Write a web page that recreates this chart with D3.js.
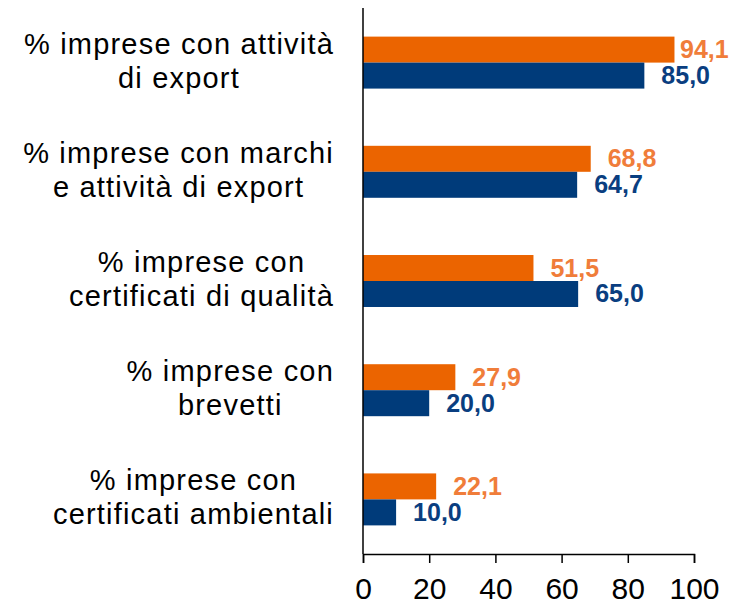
<!DOCTYPE html>
<html>
<head>
<meta charset="utf-8">
<script src="https://cdn.jsdelivr.net/npm/d3@7"></script>
<style>
  body { margin: 0; background: #fff; }
  text { font-family: "Liberation Sans", Arial, sans-serif; }
</style>
</head>
<body>
<div id="chart"></div>
<script>
// categorie (una riga per elemento)
const categories = [
  ["% imprese con attività", "di export"],
  ["% imprese con marchi", "e attività di export"],
  ["% imprese con", "certificati di qualità"],
  ["% imprese con", "brevetti"],
  ["% imprese con", "certificati ambientali"]
];
const orangeValues = [94.1, 68.8, 51.5, 27.9, 22.1];
const blueValues = [85.0, 64.7, 65.0, 20.0, 10.0];
const xTicks = [0, 20, 40, 60, 80, 100];

const width = 742, height = 605;
const plotLeft = 363, plotRight = 694, plotTop = 8, plotBottom = 554;

const svg = d3.select("#chart").append("svg")
  .attr("width", width)
  .attr("height", height);

const x = d3.scaleLinear().domain([0, 100]).range([plotLeft, plotRight]);
const y = d3.scaleBand()
  .domain(d3.range(categories.length))
  .range([plotTop, plotBottom])
  .paddingInner(0.524)
  .paddingOuter(0.262);
const ySub = d3.scaleBand().domain(["orange", "blue"]).range([0, y.bandwidth()]);

const series = [
  { key: "orange", values: orangeValues, bar: "#EB6400", label: "#F07D3A" },
  { key: "blue", values: blueValues, bar: "#003B7A", label: "#0A3E80" }
];

// barre
series.forEach(s => {
  svg.append("g").selectAll("rect")
    .data(s.values)
    .enter().append("rect")
    .attr("x", x(0))
    .attr("y", (d, i) => y(i) + ySub(s.key))
    .attr("width", d => x(d) - x(0))
    .attr("height", ySub.bandwidth())
    .attr("fill", s.bar);

  svg.append("g").selectAll("text")
    .data(s.values)
    .enter().append("text")
    .attr("x", d => Math.min(x(d) + 17, 680))
    .attr("y", (d, i) => y(i) + ySub(s.key) + ySub.bandwidth() / 2 + 8.5)
    .attr("font-size", "25px")
    .attr("font-weight", "bold")
    .attr("fill", s.label)
    .text(d => d.toFixed(1).replace(".", ","));
});

// asse x
const xAxis = svg.append("g")
  .attr("transform", `translate(0, ${plotBottom})`)
  .call(d3.axisBottom(x).tickValues(xTicks).tickSize(9).tickPadding(15));
xAxis.select(".domain").attr("stroke", "#000").attr("stroke-width", 1.5);
xAxis.selectAll(".tick line").attr("stroke", "#000").attr("stroke-width", 1.5);
xAxis.selectAll(".tick text")
  .attr("font-family", "'Liberation Sans', Arial, sans-serif")
  .attr("font-size", "30px")
  .attr("fill", "#000");

// asse y (solo linea)
svg.append("line")
  .attr("x1", x(0)).attr("x2", x(0))
  .attr("y1", plotTop).attr("y2", plotBottom)
  .attr("stroke", "#000")
  .attr("stroke-width", 1.5);

// etichette categorie
const labelRight = 334;
categories.forEach((lines, i) => {
  const g = svg.append("g");
  const texts = lines.map((line, j) => g.append("text")
    .attr("y", y(i) + y.bandwidth() / 2 - 9 + j * 34)
    .attr("font-size", "29px")
    .attr("letter-spacing", "1.2px")
    .attr("fill", "#000")
    .attr("text-anchor", "middle")
    .text(line));
  const maxW = d3.max(texts, t => t.node().getComputedTextLength());
  texts.forEach(t => t.attr("x", labelRight - maxW / 2));
});
</script>
</body>
</html>
